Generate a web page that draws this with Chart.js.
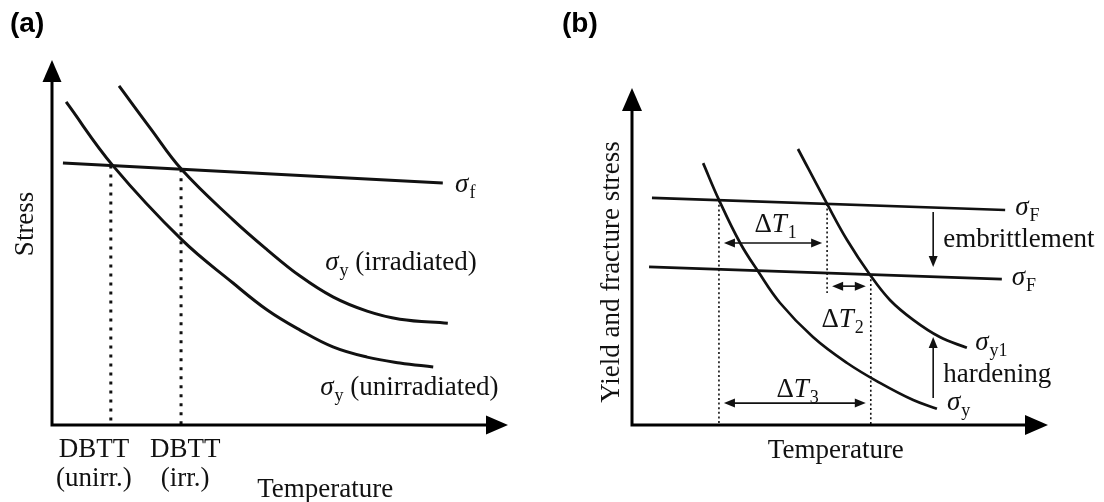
<!DOCTYPE html>
<html>
<head>
<meta charset="utf-8">
<title>Ductile-brittle transition shift</title>
<script src="https://cdn.jsdelivr.net/npm/chart.js@4.4.1/dist/chart.umd.min.js"></script>
<style>
    html, body { margin: 0; padding: 0; background: #fff; }
    #wrap { position: relative; width: 1104px; height: 502px; }
    canvas { position: absolute; top: 0; }
    #chartA { left: 0; }
    #chartB { left: 552px; }
</style>
</head>
<body>
<div id="wrap">
    <canvas id="chartA" width="552" height="502"></canvas>
    <canvas id="chartB" width="552" height="502"></canvas>
</div>
<script>
// ---- Panel (a) data, schematic units (temperature 0-100, stress 0-100) ----
var unirrT = [3.1, 13.4, 28.5, 39.7, 47.2, 54.4, 61.6, 69.1, 76.3, 83.6];
var unirrS = [88.5, 71.0, 50.7, 38.9, 31.5, 26.0, 21.4, 18.6, 17.0, 15.9];
var irrT = [14.7, 21.5, 28.5, 39.7, 47.2, 54.4, 61.6, 69.1, 76.3, 86.8];
var irrS = [92.9, 81.4, 69.9, 56.2, 48.0, 40.8, 35.1, 31.2, 29.0, 27.9];
var fracT = [2.4, 85.7];
var fracS = [71.8, 66.3];
var dbttT = [12.9, 28.3];
var dbttS = [71.1, 70.1];
var dbttLabels = [['DBTT', '(unirr.)'], ['DBTT', '(irr.)']];
var dbttLabelT = [9.2, 29.2];

// ---- Panel (b) data ----
var yieldT = [17.1, 20.9, 26.0, 30.3, 35.6, 43.5, 51.7, 59.6, 67.6, 73.3];
var yieldS = [77.7, 66.8, 54.0, 45.6, 36.2, 26.1, 18.4, 12.5, 7.4, 4.8];
var yield1T = [39.9, 46.9, 51.7, 57.2, 62.0, 67.6, 74.0, 80.5];
var yield1S = [81.9, 65.6, 54.9, 44.6, 37.1, 31.2, 26.1, 22.9];
var fracUpT = [4.8, 89.7];
var fracUpS = [67.4, 63.8];
var fracLoT = [4.1, 88.9];
var fracLoS = [46.9, 43.3];
var shiftT = [20.9, 46.9, 57.4];      // sigma_y/sigma_F crossings
var shiftTop = [66.7, 65.6, 44.6];
var shiftBottom = [0, 39.2, 0];
var deltaS = [54.0, 41.2, 6.5];       // heights of the delta-T arrows
var embrittleS = [63.2, 46.9];
var hardenS = [8.0, 26.1];
var effectT = 72.4;

var SERIF = '"Liberation Serif", "Times New Roman", serif';
var INK = '#111';

function pts(xs, ys) {
    return xs.map(function (x, i) { return { x: x, y: ys[i] }; });
}

function curve(xs, ys, width) {
    return {
        data: pts(xs, ys),
        borderColor: INK,
        borderWidth: width,
        pointRadius: 0,
        fill: false,
        tension: 0.4
    };
}

function straight(data, width, dash) {
    return {
        data: data,
        borderColor: INK,
        borderWidth: width,
        borderDash: dash || [],
        pointRadius: 0,
        fill: false,
        tension: 0
    };
}

function arrowHead(ctx, x, y, ang, len, half) {
    ctx.save();
    ctx.translate(x, y);
    ctx.rotate(ang);
    ctx.beginPath();
    ctx.moveTo(0, 0);
    ctx.lineTo(-len, -half);
    ctx.lineTo(-len, half);
    ctx.closePath();
    ctx.fill();
    ctx.restore();
}

// Axes are plain lines with solid arrow heads, no ticks
function drawAxes(chart, lw, len, half) {
    var ctx = chart.ctx, sx = chart.scales.x, sy = chart.scales.y;
    var x0 = sx.getPixelForValue(0), y0 = sy.getPixelForValue(0);
    var xEnd = sx.getPixelForValue(sx.max), yEnd = sy.getPixelForValue(sy.max);
    ctx.save();
    ctx.strokeStyle = ctx.fillStyle = '#000';
    ctx.lineWidth = lw;
    ctx.lineJoin = 'miter';
    ctx.beginPath();
    ctx.moveTo(x0, yEnd + len - 2);
    ctx.lineTo(x0, y0);
    ctx.lineTo(xEnd - len + 2, y0);
    ctx.stroke();
    arrowHead(ctx, x0, yEnd, -Math.PI / 2, len, half);
    arrowHead(ctx, xEnd, y0, 0, len, half);
    ctx.restore();
}

// Text made of pieces: 'i' italic, 's' subscript
function rich(ctx, parts, x, y, size, align) {
    var fonts = [], widths = [], total = 0;
    parts.forEach(function (p) {
        var sub = p[1].indexOf('s') >= 0, it = p[1].indexOf('i') >= 0;
        var f = (it ? 'italic ' : '') + Math.round(sub ? size * 0.67 : size) + 'px ' + SERIF;
        ctx.font = f;
        var w = ctx.measureText(p[0]).width;
        fonts.push(f); widths.push(w); total += w;
    });
    var cx = align === 'center' ? x - total / 2 : (align === 'right' ? x - total : x);
    ctx.textAlign = 'left';
    ctx.textBaseline = 'alphabetic';
    parts.forEach(function (p, i) {
        ctx.font = fonts[i];
        var dy = p[1].indexOf('s') >= 0 ? size * 0.22 : 0;
        ctx.fillText(p[0], cx, y + dy);
        cx += widths[i] + (p[1].indexOf('i') >= 0 ? 1 : 0);
    });
}

function vText(ctx, text, x, y, size) {
    ctx.save();
    ctx.translate(x, y);
    ctx.rotate(-Math.PI / 2);
    ctx.font = size + 'px ' + SERIF;
    ctx.textAlign = 'center';
    ctx.textBaseline = 'alphabetic';
    ctx.fillText(text, 0, 0);
    ctx.restore();
}

function panelTag(ctx, text) {
    ctx.save();
    ctx.fillStyle = '#000';
    ctx.font = 'bold 28px "Liberation Sans", Arial, sans-serif';
    ctx.textAlign = 'left';
    ctx.textBaseline = 'alphabetic';
    ctx.fillText(text, 10, 32);
    ctx.restore();
}

// thin arrow between two pixel points, heads at the listed ends
function thinArrow(ctx, x1, y1, x2, y2, both) {
    var ang = Math.atan2(y2 - y1, x2 - x1);
    ctx.save();
    ctx.strokeStyle = ctx.fillStyle = INK;
    ctx.lineWidth = 1.6;
    ctx.beginPath();
    ctx.moveTo(x1 + (both ? 6 * Math.cos(ang) : 0), y1 + (both ? 6 * Math.sin(ang) : 0));
    ctx.lineTo(x2 - 6 * Math.cos(ang), y2 - 6 * Math.sin(ang));
    ctx.stroke();
    arrowHead(ctx, x2, y2, ang, 11, 4.5);
    if (both) arrowHead(ctx, x1, y1, ang + Math.PI, 11, 4.5);
    ctx.restore();
}

function drawPanelA(chart) {
    var ctx = chart.ctx, sx = chart.scales.x, sy = chart.scales.y;
    var X = function (v) { return sx.getPixelForValue(v); };
    var Y = function (v) { return sy.getPixelForValue(v); };
    drawAxes(chart, 3, 22, 9.5);
    panelTag(ctx, '(a)');

    ctx.save();
    ctx.fillStyle = INK;
    rich(ctx, [['σ', 'i'], ['f', 's']], X(88.4), Y(63.8), 27, 'left');
    rich(ctx, [['σ', 'i'], ['y', 's'], [' (irradiated)', '']], X(59.9), Y(42.5), 27, 'left');
    rich(ctx, [['σ', 'i'], ['y', 's'], [' (unirradiated)', '']], X(58.8), Y(8.2), 27, 'left');

    var y0 = Y(0);
    dbttLabels.forEach(function (lab, i) {
        rich(ctx, [[lab[0], '']], X(dbttLabelT[i]), y0 + 32, 27, 'center');
        rich(ctx, [[lab[1], '']], X(dbttLabelT[i]), y0 + 61, 27, 'center');
    });
    rich(ctx, [['Temperature', '']], X(59.9), y0 + 72, 27, 'center');
    vText(ctx, 'Stress', X(0) - 19, Y(55.1), 27);
    ctx.restore();
}

function drawPanelB(chart) {
    var ctx = chart.ctx, sx = chart.scales.x, sy = chart.scales.y;
    var X = function (v) { return sx.getPixelForValue(v); };
    var Y = function (v) { return sy.getPixelForValue(v); };
    drawAxes(chart, 3, 23, 10);
    panelTag(ctx, '(b)');

    // temperature shifts between the crossings
    var inset = 5;
    thinArrow(ctx, X(shiftT[0]) + inset, Y(deltaS[0]), X(shiftT[1]) - inset, Y(deltaS[0]), true);
    thinArrow(ctx, X(shiftT[1]) + inset, Y(deltaS[1]), X(shiftT[2]) - inset, Y(deltaS[1]), true);
    thinArrow(ctx, X(shiftT[0]) + inset, Y(deltaS[2]), X(shiftT[2]) - inset, Y(deltaS[2]), true);
    // fracture stress drop and yield stress rise
    thinArrow(ctx, X(effectT), Y(embrittleS[0]), X(effectT), Y(embrittleS[1]), false);
    thinArrow(ctx, X(effectT), Y(hardenS[0]), X(effectT), Y(hardenS[1]), false);

    ctx.save();
    ctx.fillStyle = INK;
    rich(ctx, [['σ', 'i'], ['F', 's']], X(92.1), Y(62.3), 27, 'left');
    rich(ctx, [['σ', 'i'], ['F', 's']], X(91.3), Y(41.5), 27, 'left');
    rich(ctx, [['embrittlement', '']], X(74.8), Y(52.8), 27, 'left');
    rich(ctx, [['σ', 'i'], ['y1', 's']], X(82.5), Y(22.3), 27, 'left');
    rich(ctx, [['hardening', '']], X(74.8), Y(12.8), 27, 'left');
    rich(ctx, [['σ', 'i'], ['y', 's']], X(75.7), Y(4.5), 27, 'left');
    rich(ctx, [['Δ', ''], ['T', 'i'], ['1', 's']], X(34.4), Y(57.3), 27, 'center');
    rich(ctx, [['Δ', ''], ['T', 'i'], ['2', 's']], X(50.5), Y(29.1), 27, 'center');
    rich(ctx, [['Δ', ''], ['T', 'i'], ['3', 's']], X(39.7), Y(8.3), 27, 'center');
    rich(ctx, [['Temperature', '']], X(49.0), Y(0) + 33, 27, 'center');
    vText(ctx, 'Yield and fracture stress', X(0) - 13, Y(45.4), 27);
    ctx.restore();
}

function baseOptions(pad) {
    return {
        responsive: false,
        animation: false,
        devicePixelRatio: 1,
        layout: { padding: pad },
        plugins: { legend: { display: false }, tooltip: { enabled: false } },
        scales: {
            x: { type: 'linear', min: 0, max: 100, display: false },
            y: { type: 'linear', min: 0, max: 100, display: false }
        }
    };
}

// (a) stress curves before and after irradiation
var dbttSets = dbttT.map(function (t, i) {
    return straight([{ x: t, y: dbttS[i] }, { x: t, y: 0 }], 3, [3, 6]);
});
new Chart(document.getElementById('chartA'), {
    type: 'line',
    data: {
        datasets: [
            straight(pts(fracT, fracS), 3),
            curve(unirrT, unirrS, 3),
            curve(irrT, irrS, 3)
        ].concat(dbttSets)
    },
    options: baseOptions({ left: 52, right: 44, top: 60, bottom: 77 }),
    plugins: [{ id: 'panelA', afterDatasetsDraw: drawPanelA }]
});

// (b) hardening and embrittlement contributions
var shiftSets = shiftT.map(function (t, i) {
    return straight([{ x: t, y: shiftTop[i] }, { x: t, y: shiftBottom[i] }], 1.6, [2, 2.6]);
});
new Chart(document.getElementById('chartB'), {
    type: 'line',
    data: {
        datasets: [
            straight(pts(fracUpT, fracUpS), 2.7),
            straight(pts(fracLoT, fracLoS), 2.7),
            curve(yieldT, yieldS, 2.7),
            curve(yield1T, yield1S, 2.7)
        ].concat(shiftSets)
    },
    options: baseOptions({ left: 80, right: 56, top: 88, bottom: 77 }),
    plugins: [{ id: 'panelB', afterDatasetsDraw: drawPanelB }]
});
</script>
</body>
</html>
